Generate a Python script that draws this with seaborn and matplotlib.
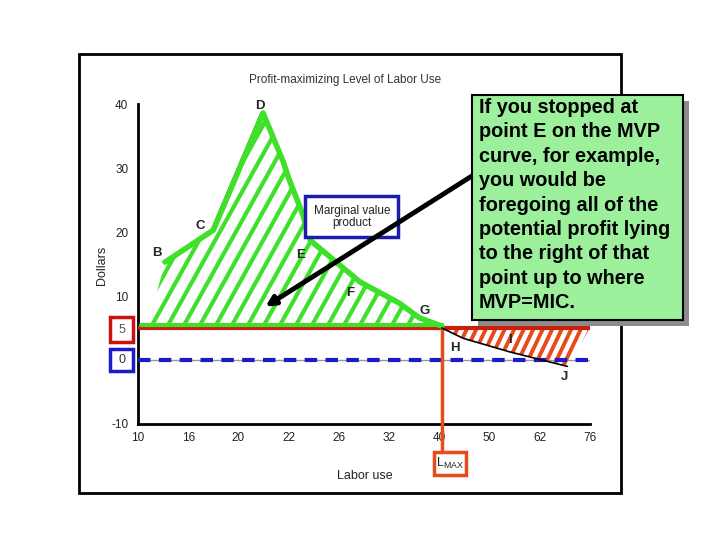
import numpy as np
import seaborn as sns
import matplotlib.pyplot as plt
from matplotlib.patches import Rectangle
from matplotlib.collections import LineCollection

# axis categories (equally spaced labels)
labor_ticks = [10, 16, 20, 22, 26, 32, 40, 50, 62, 76]

# marginal value product curve, x given as position on the labor axis
mvp_x = [0.54, 1.5, 2.49, 2.89, 3.0, 3.27, 3.43, 3.96, 4.42, 5.2, 5.6, 6.05]
mvp_y = [15.3, 20.3, 38.6, 31.0, 28.4, 23.0, 18.7, 15.2, 12.2, 8.9, 6.6, 5.3]

# curve beyond L_MAX (H to J)
hj_x = [6.05, 6.47, 7.41, 8.55]
hj_y = [5.0, 3.4, 1.25, -1.0]

mic = 5
l_max = 6.05

point_labels = ['B', 'C', 'D', 'E', 'F', 'G', 'H', 'I', 'J']
label_x = [0.38, 1.24, 2.43, 3.23, 4.22, 5.7, 6.3, 7.41, 8.49]
label_y = [16.7, 20.9, 39.7, 16.4, 10.5, 7.7, 1.9, 3.1, -2.7]

note = ("If you stopped at\npoint E on the MVP\ncurve, for example,\nyou would be\n"
        "foregoing all of the\npotential profit lying\nto the right of that\n"
        "point up to where\nMVP=MIC.")

sns.set_style('white')
plt.rcParams['font.family'] = ['Liberation Sans', 'DejaVu Sans']
plt.rcParams['axes.unicode_minus'] = False

GREEN = '#3ee02a'
RED = '#c8200c'
ORANGE = '#e84a1c'
BLUE = '#1c1cc4'

W, H = 720, 540
def fx(px):
    return px / W
def fy(py):
    return 1 - py / H

fig = plt.figure(figsize=(7.2, 5.4), dpi=100)
ax = fig.add_axes([fx(138), fy(424), (590 - 138) / W, (424 - 104) / H])
ax.set_xlim(0, 9)
ax.set_ylim(-10, 40)

# px per data unit, used for the steep hand-drawn style hatching
PX_X = 452 / 9
PX_Y = 320 / 50

def hatch_area(xs, ys, color, step_px, slope_px, lw):
    poly = ax.fill(xs, ys, facecolor='none', lw=0, zorder=2)[0]
    k = slope_px * PX_X / PX_Y
    starts = np.arange(-4, 10, step_px / PX_X)
    segs = [[(s, -10), (s + 50 / k, 40)] for s in starts]
    lc = LineCollection(segs, colors=color, linewidths=lw, zorder=2)
    ax.add_collection(lc)
    lc.set_clip_path(poly)

# hatched profit areas
hatch_area(np.r_[0.18, mvp_x, l_max], np.r_[mic, mvp_y, mic], GREEN, 16, 1.8, 3)
hatch_area(np.r_[hj_x, 9.0], np.r_[hj_y, mic], ORANGE, 9.5, 2.1, 2.8)

# reference lines
ax.axhline(0, color='#999999', lw=1, zorder=1)
ax.plot([0, 9], [0, 0], color=BLUE, lw=3, ls=(0, (3, 2)), zorder=3)
ax.plot([0, 9], [mic, mic], color=RED, lw=3, zorder=3)
ax.plot([0.05, l_max], [5.4, 5.4], color=GREEN, lw=3, zorder=4)
ax.plot([l_max, l_max], [mic, -14.4], color=ORANGE, lw=2.5, clip_on=False, zorder=4)

# curves (thin black MVP line peeks out under the green one)
sns.lineplot(x=np.array(mvp_x[:3]) - 0.04, y=mvp_y[:3], sort=False, color='black', lw=1,
             ax=ax, zorder=4)
sns.lineplot(x=mvp_x, y=mvp_y, sort=False, color=GREEN, lw=4, ax=ax, zorder=5)
sns.lineplot(x=hj_x, y=hj_y, sort=False, color='black', lw=1.2, ax=ax, zorder=5)

for t, x, y in zip(point_labels, label_x, label_y):
    ax.text(x, y, t, fontsize=9.5, fontweight='bold', ha='center', va='center', zorder=6)

# "Marginal value product" label box sits under the arrow
ax.add_patch(Rectangle((fx(305), fy(237)), (398 - 305) / W, (237 - 196) / H,
                       transform=fig.transFigure, fc='white', ec='#1c1ca8', lw=2.5,
                       clip_on=False, zorder=6))
ax.text(fx(352), fy(217), 'Marginal value\nproduct', transform=fig.transFigure,
        fontsize=8.5, ha='center', va='center', color='#222222', linespacing=1.0, zorder=7)

ax.annotate('', xy=(2.49, 8.1), xytext=(6.9, 30),
            arrowprops=dict(arrowstyle='-|>', lw=3.5, color='black', mutation_scale=14),
            zorder=8)

# axes styling
ax.set_xticks(range(len(labor_ticks)))
ax.set_xticklabels(labor_ticks)
ax.set_xticks(np.arange(0.5, 9, 1), minor=True)
ax.set_yticks([-10, 10, 20, 30, 40])
ax.tick_params(axis='both', which='both', direction='in', length=5, width=1,
               labelsize=8.5, labelcolor='#222222', color='black')
ax.tick_params(axis='x', pad=6)
ax.tick_params(axis='y', pad=7)
for side in ['top', 'right']:
    ax.spines[side].set_visible(False)
for side in ['left', 'bottom']:
    ax.spines[side].set_linewidth(2)
    ax.spines[side].set_color('black')

# figure level decorations
fig.patches.append(Rectangle((fx(79), fy(493)), (621 - 79) / W, (493 - 54) / H,
                             transform=fig.transFigure, fill=False, ec='black', lw=2, zorder=1))
fig.text(fx(345), fy(80), 'Profit-maximizing Level of Labor Use', fontsize=8.5,
         color='#333333', ha='center', va='center')
fig.text(fx(102), fy(265), 'Dollars', fontsize=9, rotation=90, ha='center', va='center',
         color='#222222')
fig.text(fx(365), fy(476), 'Labor use', fontsize=9, ha='center', va='center', color='#222222')

def box(x0, y0, x1, y1, ec, lw=2.5, fc='white', z=2):
    fig.patches.append(Rectangle((fx(x0), fy(y1)), (x1 - x0) / W, (y1 - y0) / H,
                                 transform=fig.transFigure, fc=fc, ec=ec, lw=lw, zorder=z))

box(110, 317, 133, 342, '#cc1111')
fig.text(fx(122), fy(330), '5', fontsize=9, ha='center', va='center', color='#555555', zorder=3)
box(110, 349, 133, 371, BLUE)
fig.text(fx(122), fy(360), '0', fontsize=9, ha='center', va='center', color='#333333', zorder=3)

box(434, 452, 466, 475, ORANGE)
fig.text(fx(450), fy(463), r'L$_{\mathregular{MAX}}$', fontsize=9, ha='center', va='center',
         color='#222222', zorder=3)

box(478, 101, 689, 326, 'none', lw=0, fc='#8c8c8c', z=4)
box(472, 95, 683, 320, 'black', lw=1.5, fc='#9cf09c', z=5)
fig.text(fx(479), fy(98), note, fontsize=14.3, fontweight='bold', ha='left', va='top',
         linespacing=1.36, color='black', zorder=6)

fig.savefig('out.png', dpi=100)
